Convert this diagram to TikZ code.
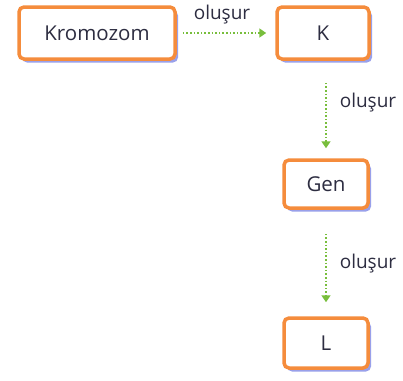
\documentclass[tikz,border=0pt]{standalone}
\usepackage{fontspec}
\setmainfont{Open Sans}
\usetikzlibrary{arrows.meta,shadows}

\definecolor{boxorange}{RGB}{245,140,60}
\definecolor{arrowgreen}{RGB}{120,190,60}
\definecolor{textgrey}{RGB}{45,45,65}
\definecolor{shadowblue}{RGB}{110,120,225}

\begin{document}
\begin{tikzpicture}[x=1pt, y=-1pt]
\tikzset{orangebox/.style={draw=boxorange, line width=3.5pt, rounded corners=5pt, fill=white,
  text=textgrey, font=\fontsize{20.5}{24}\selectfont, inner sep=0pt,
  drop shadow={shadow xshift=3pt, shadow yshift=-3.5pt, fill=shadowblue, opacity=0.7}},
greenarrow/.style={draw=arrowgreen, line width=1.6pt, dotted, -{Triangle[length=7pt,width=9pt,fill=arrowgreen]}},
arrowlabel/.style={text=textgrey, font=\fontsize{19}{22}\selectfont, inner sep=0pt}}
\useasboundingbox (0,0) rectangle (403,380);

\node (kromozom) [orangebox, minimum width=156pt, minimum height=52pt] at (97,33) {Kromozom};
\node (k) [orangebox, minimum width=92pt, minimum height=52pt] at (323,33) {K};
\node (gen) [orangebox, minimum width=84pt, minimum height=48pt] at (326,184) {Gen};
\node (l) [orangebox, minimum width=84pt, minimum height=50pt] at (326,343) {L};

%% Arrows
\draw [greenarrow, shorten <=6pt, shorten >=9pt] (kromozom.east) -- (k.west);
\draw [greenarrow, shorten <=22pt, shorten >=10pt] (k.south -| gen.north) -- (gen.north);
\draw [greenarrow, shorten <=24pt, shorten >=14pt] (gen.south) -- (l.north);

%% Labels
\node (lab1) [arrowlabel] at (222,15) {oluşur};
\node (lab2) [arrowlabel] at (368,103) {oluşur};
\node (lab3) [arrowlabel] at (368,264) {oluşur};
\end{tikzpicture}
\end{document}
